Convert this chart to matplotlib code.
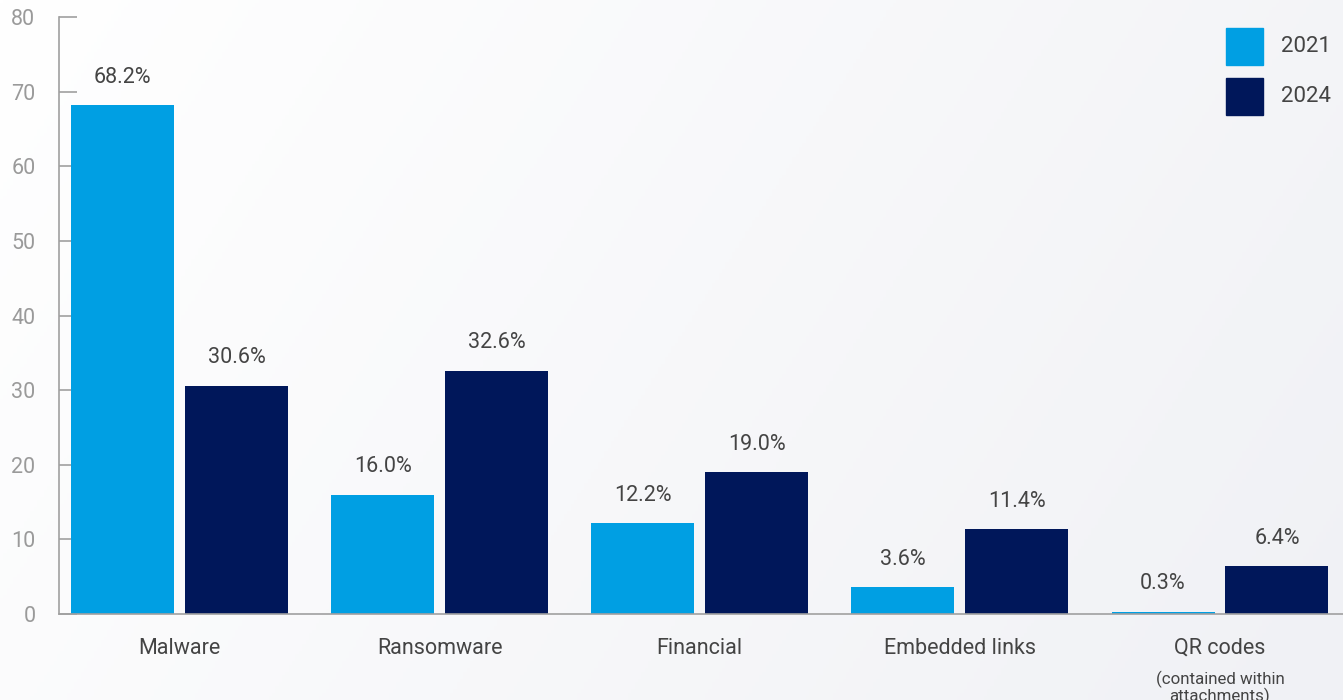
import matplotlib
matplotlib.use("Agg")
import matplotlib.pyplot as plt
from matplotlib.patches import Rectangle
import numpy as np

plt.rcParams["font.family"] = ["Roboto", "DejaVu Sans"]

categories = ["Malware", "Ransomware", "Financial", "Embedded links", "QR codes"]
share_2021 = [68.2, 16.0, 12.2, 3.6, 0.3]
share_2024 = [30.6, 32.6, 19.0, 11.4, 6.4]
years = ["2021", "2024"]
y_ticks = [0, 10, 20, 30, 40, 50, 60, 70, 80]

C_2021 = "#009fe3"
C_2024 = "#00175a"
TEXT = "#444444"
AXIS = "#a0a0a0"

W, H = 1343, 700
fig = plt.figure(figsize=(W / 100, H / 100), dpi=100)

# soft diagonal background wash
bg = fig.add_axes([0, 0, 1, 1], zorder=-10)
gx, gy = np.meshgrid(np.linspace(0, 1, 400), np.linspace(0, 1, 200))
grad = np.clip(0.75 * gx + 0.25 * gy, 0, 1)
c0 = np.array([1.0, 1.0, 1.0])
c1 = np.array([0xf0, 0xf1, 0xf5]) / 255
img = c0[None, None, :] * (1 - grad[..., None]) + c1[None, None, :] * grad[..., None]
bg.imshow(img, aspect="auto", extent=[0, 1, 0, 1], origin="upper")
bg.axis("off")

ax = fig.add_axes([59 / W, (H - 614) / H, (W - 59) / W, 597 / H])
ax.patch.set_alpha(0)

x = np.arange(len(categories))
bw = 0.396
off = 0.219
b1 = ax.bar(x - off, share_2021, bw, color=C_2021, zorder=2)
b2 = ax.bar(x + off, share_2024, bw, color=C_2024, zorder=2)

for bars, vals in ((b1, share_2021), (b2, share_2024)):
    for rect, v in zip(bars, vals):
        ax.annotate(f"{v:.1f}%", (rect.get_x() + rect.get_width() / 2, v),
                    xytext=(0, 20), textcoords="offset points",
                    ha="center", va="center", fontsize=15.5, color=TEXT)

ax.set_xlim(-0.4635, 4.473)
ax.set_ylim(0, 80)
ax.set_yticks(y_ticks)
ax.set_xticks(x)
ax.set_xticklabels(categories, fontsize=15.5, color=TEXT)
ax.tick_params(axis="x", length=0, pad=17)
ax.tick_params(axis="y", direction="in", length=13, width=1.2, color=AXIS,
               labelcolor="#9a9a9a", labelsize=15.5, pad=17)

for s in ("top", "right"):
    ax.spines[s].set_visible(False)
for s in ("left", "bottom"):
    ax.spines[s].set_color(AXIS)
    ax.spines[s].set_linewidth(1.2)

ax.text(4, -7.6, "(contained within\nattachments)", ha="center", va="top",
        fontsize=12.2, color=TEXT, linespacing=1.0)

# legend: colour squares with year labels, top right
for i, (yr, col) in enumerate(zip(years, [C_2021, C_2024])):
    top = 28 + 50 * i
    fig.patches.append(Rectangle((1226 / W, 1 - (top + 37) / H), 37 / W, 37 / H,
                                 transform=fig.transFigure, color=col))
    fig.text(1281 / W, 1 - (top + 19) / H, yr, ha="left", va="center",
             fontsize=16, color=TEXT)

fig.savefig("out.png", dpi=100)
